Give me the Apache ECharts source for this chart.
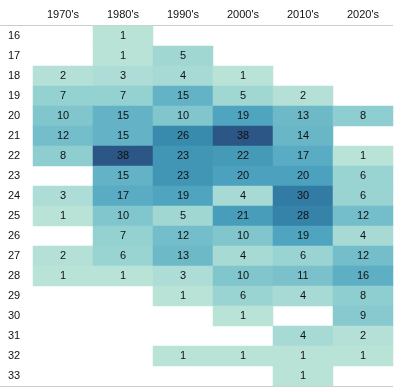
<!DOCTYPE html>
<html>
<head>
<meta charset="utf-8">
<script src="https://cdn.jsdelivr.net/npm/echarts@6/dist/echarts.min.js"></script>
<style>html,body{margin:0;padding:0;background:#fff;}#c{width:396px;height:390px;}</style>
</head>
<body>
<div id="c"></div>
<script>
var decades = ["1970's", "1980's", "1990's", "2000's", "2010's", "2020's"];
var rows = ["16","17","18","19","20","21","22","23","24","25","26","27","28","29","30","31","32","33"];
// values per decade, one entry per row (null = empty)
var d1970 = [null,null,2,7,10,12,8,null,3,1,null,2,1,null,null,null,null,null];
var d1980 = [1,1,3,7,15,15,38,15,17,10,7,6,1,null,null,null,null,null];
var d1990 = [null,5,4,15,10,26,23,23,19,5,12,13,3,1,null,null,1,null];
var d2000 = [null,null,1,5,19,38,22,20,4,21,10,4,10,6,1,null,1,null];
var d2010 = [null,null,null,2,13,14,17,20,30,28,19,6,11,4,null,4,1,1];
var d2020 = [null,null,null,null,8,null,1,6,6,12,4,12,16,8,9,2,1,null];

var cols = [d1970, d1980, d1990, d2000, d2010, d2020];
var data = [];
cols.forEach(function(col, ci){
  col.forEach(function(v, ri){
    if (v !== null) data.push([ci, ri, v]);
  });
});

var chart = echarts.init(document.getElementById('c'), null, {renderer:'canvas'});
chart.setOption({
  animation: false,
  textStyle: {fontFamily: 'Liberation Sans, Arial, sans-serif'},
  grid: {left: 33, right: 3, top: 26, bottom: 4},
  xAxis: {
    type: 'category', data: decades, position: 'top',
    axisLine: {show: false}, axisTick: {show: false}, splitLine: {show: false},
    axisLabel: {color: '#111', fontSize: 11, margin: 6}
  },
  yAxis: {
    type: 'category', data: rows, inverse: true,
    axisLine: {show: false}, axisTick: {show: false}, splitLine: {show: false},
    axisLabel: {color: '#111', fontSize: 11, align: 'left', margin: 25}
  },
  visualMap: {
    show: false, min: 1, max: 38, dimension: 2,
    inRange: {color: ['#bae3d8', '#93d0d1', '#6cb8c8', '#4ca3bf', '#3a8cae', '#2f74a0', '#2c5686']}
  },
  series: [{
    type: 'heatmap', data: data,
    label: {show: true, color: '#111', fontSize: 11},
    itemStyle: {borderWidth: 0}
  }],
  graphic: [
    {type: 'line', shape: {x1: 0, y1: 25.5, x2: 393, y2: 25.5}, style: {stroke: '#cccccc', lineWidth: 1}, silent: true},
    {type: 'line', shape: {x1: 0, y1: 386.5, x2: 393, y2: 386.5}, style: {stroke: '#cccccc', lineWidth: 1}, silent: true}
  ]
});
</script>
</body>
</html>
